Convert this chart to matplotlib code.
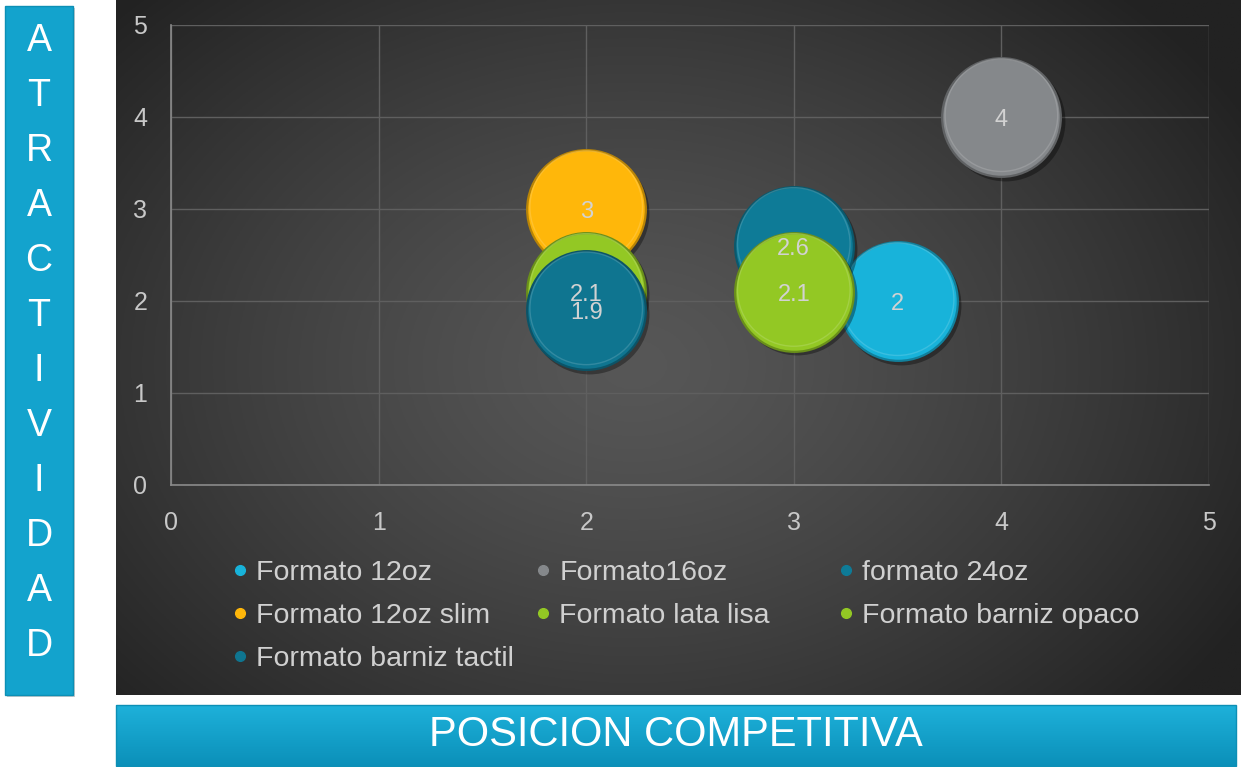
import numpy as np
import matplotlib.pyplot as plt
from matplotlib.patches import Rectangle
from matplotlib.lines import Line2D
import matplotlib.colors as mcolors

plt.rcParams['font.family'] = ['Liberation Sans', 'DejaVu Sans']

# ---- data ----
series = ["Formato 12oz", "Formato16oz", "formato 24oz", "Formato 12oz slim",
          "Formato lata lisa", "Formato barniz opaco", "Formato barniz tactil"]
x_vals = [3.5, 4, 3, 2, 2, 3, 2]
y_vals = [2, 4, 2.6, 3, 2.1, 2.1, 1.9]
bubble_sizes = [1, 1, 1, 1, 1, 1, 1]
labels = ["2", "4", "2.6", "3", "2.1", "2.1", "1.9"]
colors = ["#18b3da", "#85888b", "#0e7b97", "#ffb70a", "#93c824", "#93c824", "#0f7590"]
x_ticks = [0, 1, 2, 3, 4, 5]
y_ticks = [0, 1, 2, 3, 4, 5]
y_title = "ATRACTIVIDAD"
x_title = "POSICION COMPETITIVA"

W, H = 1241, 767
fig = plt.figure(figsize=(W / 100, H / 100), dpi=100)
fig.patch.set_facecolor('white')

# ---- dark gradient panel ----
px0, py0, px1, py1 = 116, 0, 1241, 695
bg = fig.add_axes([px0 / W, 1 - py1 / H, (px1 - px0) / W, (py1 - py0) / H], zorder=0)
gx = np.linspace(-1, 1, 400)
gy = np.linspace(-1, 1, 300)
GX, GY = np.meshgrid(gx, gy)
R = np.sqrt(((GX + 0.08) / 1.05) ** 2 + ((GY - 0.05) / 1.25) ** 2)
R = np.clip(R, 0, 1.2) / 1.2
c_in = np.array(mcolors.to_rgb('#575757'))
c_out = np.array(mcolors.to_rgb('#222222'))
img = c_in[None, None, :] * (1 - R[..., None] ** 1.3) + c_out[None, None, :] * (R[..., None] ** 1.3)
bg.imshow(img, aspect='auto', extent=[0, 1, 0, 1], origin='upper')
bg.set_axis_off()

# ---- main axes ----
ax = fig.add_axes([171 / W, 1 - 485 / H, (1209 - 171) / W, (485 - 25) / H], zorder=2)
ax.set_facecolor('none')
ax.set_xlim(0, 5)
ax.set_ylim(0, 5)
ax.set_xticks(x_ticks)
ax.set_yticks(y_ticks)
ax.set_xticklabels([str(t) for t in x_ticks])
ax.set_yticklabels([str(t) for t in y_ticks])
ax.tick_params(length=0, colors='#c8c8c8', labelsize=18)
ax.tick_params(axis='x', pad=19)
ax.tick_params(axis='y', pad=17)
ax.grid(True, color='#5f5f5f', linewidth=1)
ax.set_axisbelow(True)
for side in ['top', 'right']:
    ax.spines[side].set_visible(False)
for side in ['left', 'bottom']:
    ax.spines[side].set_color('#8a8a8a')
    ax.spines[side].set_linewidth(1.2)

base_s = 7300
for i in range(len(series)):
    c = np.array(mcolors.to_rgb(colors[i]))
    dark = c * 0.72
    light = np.clip(c + (1 - c) * 0.25, 0, 1)
    s = base_s * bubble_sizes[i]
    # shadow
    ax.scatter([x_vals[i] + 0.015], [y_vals[i] - 0.04], s=s * 1.02, color='black', alpha=0.35,
               linewidths=0, zorder=3 + i * 0.1)
    ax.scatter([x_vals[i]], [y_vals[i]], s=s, color=c, edgecolors=dark, linewidths=1.6,
               zorder=3 + i * 0.1 + 0.01)
    # subtle top highlight rim
    ax.scatter([x_vals[i]], [y_vals[i] + 0.02], s=s * 0.9, facecolors='none', edgecolors=light,
               linewidths=1.0, alpha=0.6, zorder=3 + i * 0.1 + 0.02)

for i in range(len(series)):
    ax.text(x_vals[i], y_vals[i] - 0.03, labels[i], ha='center', va='center', fontsize=17,
            color='#d2d2d2', zorder=10)

# ---- legend (three columns, row-wise order like the original) ----
col_groups = [[0, 3, 6], [1, 4], [2, 5]]
col_x = [232, 535, 838]
for grp, cx in zip(col_groups, col_x):
    handles = [Line2D([], [], linestyle='none', marker='o', markersize=7,
                      markerfacecolor=colors[k], markeredgecolor=colors[k]) for k in grp]
    leg = fig.legend(handles, [series[k] for k in grp], loc='upper left',
                     bbox_to_anchor=(cx / W, 1 - 560 / H), frameon=False,
                     fontsize=20.5, labelcolor='#d0d0d0', handlelength=0.55,
                     handletextpad=0.3, labelspacing=0.6, borderpad=0, borderaxespad=0)
    leg.set_zorder(5)

# ---- left title box ----
box_l = fig.add_axes([0, 0, 1, 1], zorder=1)
box_l.set_xlim(0, W)
box_l.set_ylim(H, 0)
box_l.set_axis_off()
box_l.patch.set_alpha(0)
box_l.add_patch(Rectangle((7, 8), 68, 689, facecolor='#9a9a9a', alpha=0.5, linewidth=0))
box_l.add_patch(Rectangle((5, 6), 68, 689, facecolor='#13a3cd', edgecolor='#0c8fb5', linewidth=1))
for j, ch in enumerate(y_title):
    box_l.text(39, 41 + j * 55.0, ch, ha='center', va='center', fontsize=27, color='white')

# ---- bottom title box with vertical gradient ----
bx0, by0, bx1, by1 = 116, 705, 1236, 766
grad = np.linspace(0, 1, 100)[:, None]
ctop = np.array(mcolors.to_rgb('#1eb1da'))
cbot = np.array(mcolors.to_rgb('#0b90b9'))
gimg = ctop[None, None, :] * (1 - grad[..., None]) + cbot[None, None, :] * grad[..., None]
gimg = np.repeat(gimg, 2, axis=1)
box_l.imshow(gimg, extent=[bx0, bx1, by1, by0], aspect='auto', zorder=1)
box_l.add_patch(Rectangle((bx0, by0), bx1 - bx0, by1 - by0, facecolor='none',
                          edgecolor='#0c8fb5', linewidth=1, zorder=2))
box_l.text((bx0 + bx1) / 2, 735, x_title, ha='center', va='center', fontsize=30,
           color='white', family=['Liberation Sans Narrow', 'Liberation Sans', 'DejaVu Sans'],
           zorder=3)
box_l.set_xlim(0, W)
box_l.set_ylim(H, 0)

fig.savefig('out.png', dpi=100, facecolor='white')
